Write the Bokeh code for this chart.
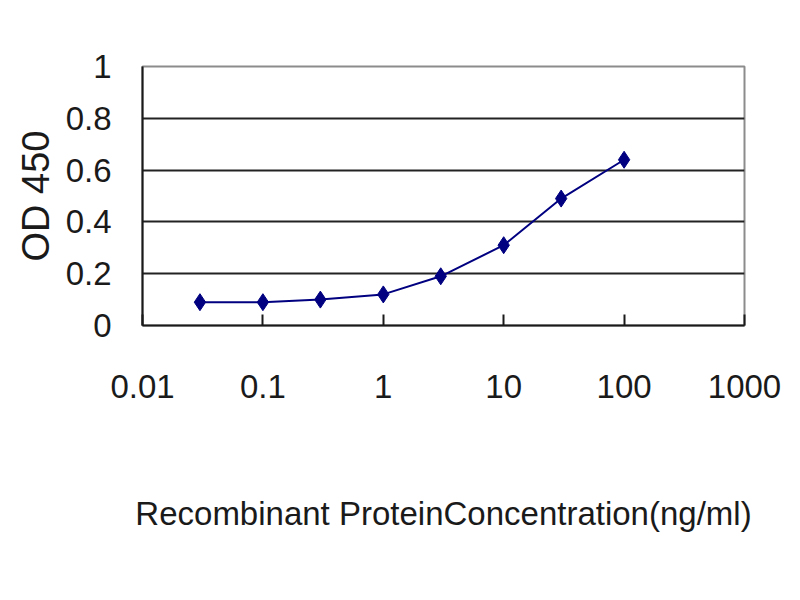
from bokeh.plotting import figure
from bokeh.models import FixedTicker, Range1d
from bokeh.embed import file_html
from bokeh.resources import INLINE

concentration = [0.03, 0.1, 0.3, 1, 3, 10, 30, 100]
od450 = [0.09, 0.09, 0.10, 0.12, 0.19, 0.31, 0.49, 0.64]

x_ticks = [0.01, 0.1, 1, 10, 100, 1000]
x_tick_labels = ["0.01", "0.1", "1", "10", "100", "1000"]
y_ticks = [0, 0.2, 0.4, 0.6, 0.8, 1]
y_tick_labels = ["0", "0.2", "0.4", "0.6", "0.8", "1"]

x_title = "Recombinant ProteinConcentration(ng/ml)"
y_title = "OD 450"

font = "Liberation Sans"
ink = "#1a1a1a"

p = figure(
    width=784, height=584,
    x_axis_type="log",
    x_range=Range1d(0.01, 1000), y_range=Range1d(0, 1),
    output_backend="svg", toolbar_location=None,
    min_border_left=142, min_border_right=40,
    min_border_top=66, min_border_bottom=259,
)
p.background_fill_color = "white"
p.border_fill_color = "white"
p.outline_line_color = "#8c8c8c"
p.outline_line_width = 2

# grid
p.xgrid.visible = False
p.ygrid.ticker = FixedTicker(ticks=y_ticks[1:-1])
p.ygrid.grid_line_color = "#222222"
p.ygrid.grid_line_width = 2

# x axis
xa = p.xaxis[0]
xa.ticker = FixedTicker(ticks=x_ticks)
xa.major_label_overrides = dict(zip(x_ticks, x_tick_labels))
xa.major_tick_in = 11
xa.major_tick_out = 0
xa.minor_tick_line_color = None
xa.major_tick_line_color = ink
xa.major_tick_line_width = 2
xa.axis_line_color = ink
xa.axis_line_width = 2
xa.major_label_standoff = 49
xa.major_label_text_font = font
xa.major_label_text_font_size = "33px"
xa.major_label_text_color = ink
xa.axis_label = x_title
xa.axis_label_text_font = font
xa.axis_label_text_font_style = "normal"
xa.axis_label_text_font_size = "33px"
xa.axis_label_text_color = ink
xa.axis_label_standoff = 94

# y axis
ya = p.yaxis[0]
ya.ticker = FixedTicker(ticks=y_ticks)
ya.major_label_overrides = dict(zip(y_ticks, y_tick_labels))
ya.major_tick_in = 0
ya.major_tick_out = 0
ya.minor_tick_line_color = None
ya.axis_line_color = ink
ya.axis_line_width = 2
ya.major_label_standoff = 31
ya.major_label_text_font = font
ya.major_label_text_font_size = "33px"
ya.major_label_text_color = ink
ya.axis_label = y_title
ya.axis_label_text_font = font
ya.axis_label_text_font_style = "normal"
ya.axis_label_text_font_size = "38px"
ya.axis_label_text_color = ink
ya.axis_label_standoff = 6

# data
p.line(concentration, od450, line_color="#000080", line_width=2)
p.scatter(concentration, od450, marker="diamond", size=17,
          fill_color="#000080", line_color="#000080")

open("out.html", "w").write(file_html(p, INLINE))
